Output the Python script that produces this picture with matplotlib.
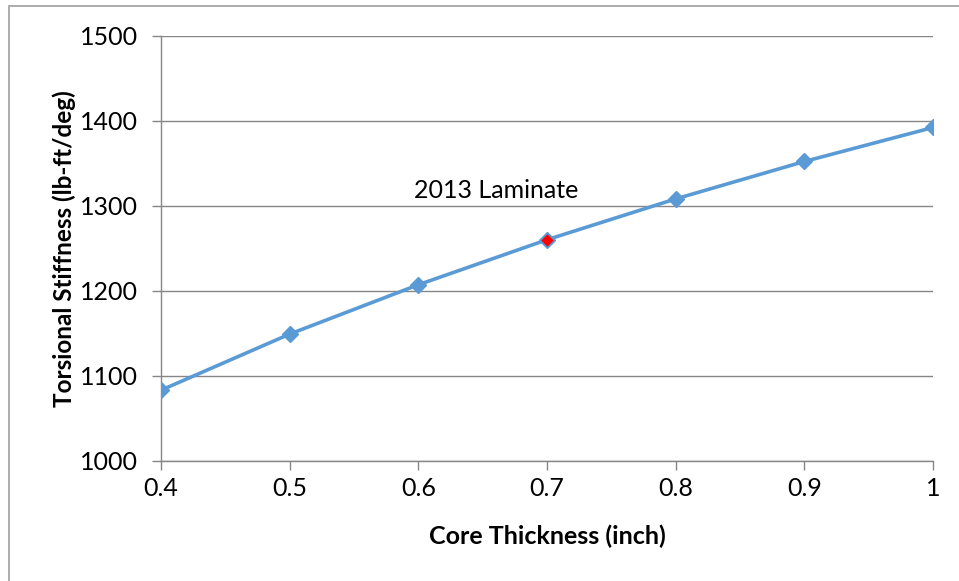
import matplotlib.pyplot as plt
from matplotlib.patches import Rectangle

# data
core_thickness = [0.4, 0.5, 0.6, 0.7, 0.8, 0.9, 1.0]
stiffness = [1083, 1149, 1207, 1260, 1308, 1352, 1392]
laminate_x = [0.7]
laminate_y = [1260]
x_ticks = [0.4, 0.5, 0.6, 0.7, 0.8, 0.9, 1.0]
x_labels = ['0.4', '0.5', '0.6', '0.7', '0.8', '0.9', '1']
y_ticks = [1000, 1100, 1200, 1300, 1400, 1500]

plt.rcParams['font.family'] = ['Lato', 'DejaVu Sans']

blue = '#5B9BD5'
grid_gray = '#868686'
fs = 18

fig = plt.figure(figsize=(9.59, 5.81), dpi=100)
ax = fig.add_axes([0.1679, 0.207, 0.8050, 0.7316])

ax.plot(core_thickness, stiffness, color=blue, lw=2.6, marker='D',
        markersize=8, markerfacecolor=blue, markeredgecolor=blue, zorder=3)
ax.plot(laminate_x, laminate_y, ls='none', marker='D', markersize=7,
        markerfacecolor='red', markeredgecolor=blue, markeredgewidth=0.8, zorder=4)
ax.text(0.597, 1318, '2013 Laminate', fontsize=fs, ha='left', va='center')

ax.set_xlim(0.4, 1.0)
ax.set_ylim(1000, 1500)
ax.set_xticks(x_ticks)
ax.set_xticklabels(x_labels)
ax.set_yticks(y_ticks)
ax.tick_params(axis='both', labelsize=fs, color=grid_gray, length=6.5, width=1)
ax.tick_params(axis='x', pad=5)
ax.tick_params(axis='y', pad=10)

ax.grid(axis='y', color=grid_gray, lw=1)
ax.set_axisbelow(True)
for side in ['top', 'right']:
    ax.spines[side].set_visible(False)
for side in ['left', 'bottom']:
    ax.spines[side].set_color(grid_gray)
    ax.spines[side].set_linewidth(1)

ax.set_xlabel('Core Thickness (inch)', fontsize=fs, fontweight='bold', labelpad=18)
ax.set_ylabel('Torsional Stiffness (lb-ft/deg)', fontsize=17.5, fontweight='bold', labelpad=3)

# outer chart border (right and bottom edges fall outside the picture)
fig.patches.append(Rectangle((8.5 / 959, -0.05), 1.0, 1.05 - 6 / 581,
                             transform=fig.transFigure, fill=False,
                             edgecolor='#A6A6A6', lw=1.3))

fig.savefig('out.png', dpi=100)
